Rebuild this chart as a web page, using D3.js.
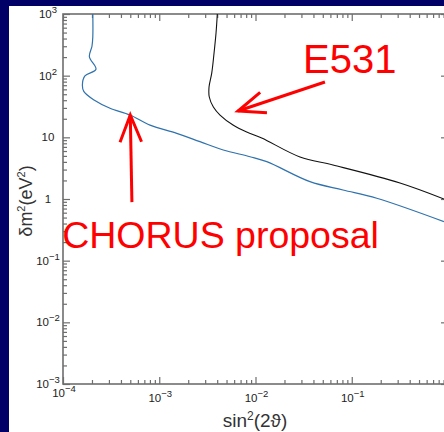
<!DOCTYPE html>
<html>
<head>
<meta charset="utf-8">
<script src="https://cdn.jsdelivr.net/npm/d3@7/dist/d3.min.js"></script>
<style>
  html, body { margin: 0; padding: 0; background: #000066; }
  #chart { position: absolute; left: 0; top: 0; }
  text { font-family: "Liberation Sans", Arial, Helvetica, sans-serif; }
</style>
</head>
<body>
<div id="chart"></div>
<script>
// CHORUS proposal sensitivity curve (sin^2(2theta), delta m^2 in eV^2)
const chorusSin2 = [2.04e-4, 2.04e-4, 2.0e-4, 1.88e-4, 2.2e-4, 1.69e-4, 1.59e-4, 1.65e-4, 2.1e-4, 3.08e-4,
                    4.97e-4, 8.02e-4, 1.52e-3, 2.65e-3, 4.62e-3, 8.77e-3, 1.31e-2, 3.68e-2, 8.11e-2, 0.182, 0.908];
const chorusDm2  = [1000, 424, 300, 203, 127, 99, 70.6, 55, 40.3, 29.6,
                    23, 15.8, 11.6, 8.5, 6.23, 4.85, 4.03, 1.91, 1.4, 1.03, 0.43];

// E531 exclusion curve
const e531Sin2 = [4.01e-3, 3.89e-3, 3.71e-3, 3.51e-3, 3.29e-3, 3.31e-3, 3.65e-3, 4.28e-3,
                  5.84e-3, 8.1e-3, 1.16e-2, 2.9e-2, 6.38e-2, 0.317, 0.908];
const e531Dm2  = [1000, 492, 233, 110, 65.5, 45.1, 31, 23,
                  15.85, 12.2, 9.75, 4.8, 3.56, 1.82, 1.0];

// tick labels: [base, exponent]
const xTicks = [1e-4, 1e-3, 1e-2, 1e-1];
const xTickLabels = [["10", "\u22124"], ["10", "\u22123"], ["10", "\u22122"], ["10", "\u22121"]];
const yTicks = [1e-3, 1e-2, 1e-1, 1, 10, 100, 1000];
const yTickLabels = [["10", "\u22123"], ["10", "\u22122"], ["10", "\u22121"], ["1", ""], ["10", ""], ["10", "2"], ["10", "3"]];

// annotations in data coordinates
const arrows = [
  { from: [5.2e-4, 0.89], to: [5.0e-4, 23] },
  { from: [5.27e-2, 78.9], to: [6.58e-3, 26.7] }
];
const notes = [
  { text: "E531", x: 3.12e-2, y: 110, size: 40 },
  { text: "CHORUS proposal", x: 9.8e-5, y: 0.16, size: 37.5 }
];

const W = 444, H = 432;
const margin = { top: 14, left: 63, bottom: 48 };
const plotRight = 448; // right frame sits just outside the window

const svg = d3.select("#chart").append("svg")
    .attr("width", W)
    .attr("height", H);

svg.append("rect")
    .attr("x", 9).attr("y", 6)
    .attr("width", W - 9).attr("height", H - 6)
    .attr("fill", "white");

const x = d3.scaleLog().domain([1e-4, 1]).range([margin.left, plotRight]);
const y = d3.scaleLog().domain([1e-3, 1e3]).range([H - margin.bottom, margin.top]);

const axisColor = "#6e6e6e";
const x0 = x.range()[0], x1 = x.range()[1];
const y0 = y.range()[0], y1 = y.range()[1];

// minor tick values (2..9 in each decade)
const isDecade = v => Math.abs(Math.log10(v) - Math.round(Math.log10(v))) < 1e-6;
const xMinor = x.ticks().filter(v => !isDecade(v));
const yMinor = y.ticks().filter(v => !isDecade(v));
const xMajor = x.ticks().filter(isDecade);
const yMajor = y.ticks().filter(isDecade);

const drawAxis = (axisFn, scale, vals, len, transform) => {
  const g = svg.append("g")
      .attr("transform", transform)
      .call(axisFn(scale).tickValues(vals).tickSize(-len).tickFormat(""));
  g.select(".domain").remove();
  g.selectAll(".tick line").attr("stroke", axisColor).attr("stroke-width", 1.2);
};

// bottom & top
drawAxis(d3.axisBottom, x, xMinor, 4, `translate(0,${y0})`);
drawAxis(d3.axisBottom, x, xMajor, 7, `translate(0,${y0})`);
drawAxis(d3.axisTop, x, xMinor, 4, `translate(0,${y1})`);
drawAxis(d3.axisTop, x, xMajor, 7, `translate(0,${y1})`);
// left & right
drawAxis(d3.axisLeft, y, yMinor, 4, `translate(${x0},0)`);
drawAxis(d3.axisLeft, y, yMajor, 7, `translate(${x0},0)`);
drawAxis(d3.axisRight, y, yMinor, 4, `translate(${x1},0)`);
drawAxis(d3.axisRight, y, yMajor, 7, `translate(${x1},0)`);

// frame
svg.append("rect")
    .attr("x", x0).attr("y", y1)
    .attr("width", x1 - x0).attr("height", y0 - y1)
    .attr("fill", "none")
    .attr("stroke", axisColor)
    .attr("stroke-width", 1.6);

// tick labels
const xl = svg.append("g").attr("fill", "#222").attr("font-size", 11.5);
xTicks.forEach((v, i) => {
  const t = xl.append("text")
      .attr("x", x(v) + 1)
      .attr("y", i === 0 ? y0 + 13 : y0 + 18)
      .attr("text-anchor", "middle");
  t.append("tspan").text(xTickLabels[i][0]);
  t.append("tspan").attr("dy", -5).attr("font-size", 9.5).text(xTickLabels[i][1]);
});

const yl = svg.append("g").attr("fill", "#222").attr("font-size", 11.5);
yTicks.forEach((v, i) => {
  const t = yl.append("text")
      .attr("x", 48)
      .attr("y", y(v) + 4)
      .attr("text-anchor", "middle");
  t.append("tspan").text(yTickLabels[i][0]);
  if (yTickLabels[i][1]) {
    t.append("tspan").attr("dy", -5).attr("font-size", 9.5).text(yTickLabels[i][1]);
  }
});

// axis titles
const xt = svg.append("text")
    .attr("x", 255).attr("y", 427)
    .attr("text-anchor", "middle")
    .attr("font-size", 19)
    .attr("fill", "#333");
xt.append("tspan").text("sin");
xt.append("tspan").attr("dy", -7).attr("font-size", 12).text("2");
xt.append("tspan").attr("dy", 7).text("(2\u03D1)");

const yt = svg.append("text")
    .attr("transform", "translate(32,201) rotate(-90)")
    .attr("text-anchor", "middle")
    .attr("font-size", 18)
    .attr("fill", "#333");
yt.append("tspan").text("\u03B4m");
yt.append("tspan").attr("dy", -7).attr("font-size", 11).text("2");
yt.append("tspan").attr("dy", 7).text("(eV");
yt.append("tspan").attr("dy", -7).attr("font-size", 11).text("2");
yt.append("tspan").attr("dy", 7).text(")");

// curves
const line = d3.line()
    .x(d => x(d[0]))
    .y(d => y(d[1]))
    .curve(d3.curveCatmullRom.alpha(0.5));

const plot = svg.append("g");

plot.append("path")
    .datum(chorusSin2.map((v, i) => [v, chorusDm2[i]]))
    .attr("d", line)
    .attr("fill", "none")
    .attr("stroke", "#2f72ad")
    .attr("stroke-width", 1.2);

plot.append("path")
    .datum(e531Sin2.map((v, i) => [v, e531Dm2[i]]))
    .attr("d", line)
    .attr("fill", "none")
    .attr("stroke", "#111")
    .attr("stroke-width", 1.1);

// annotation arrows
arrows.forEach(a => {
  const fx = x(a.from[0]), fy = y(a.from[1]);
  const tx = x(a.to[0]), ty = y(a.to[1]);
  const ang = Math.atan2(fy - ty, fx - tx);
  const head = 29, spread = 0.38;
  const g = svg.append("g")
      .attr("stroke", "#ff0000")
      .attr("stroke-width", 3)
      .attr("fill", "none");
  g.append("line").attr("x1", fx).attr("y1", fy).attr("x2", tx).attr("y2", ty);
  g.append("polyline").attr("points", [
    [tx + head * Math.cos(ang + spread), ty + head * Math.sin(ang + spread)],
    [tx, ty],
    [tx + head * Math.cos(ang - spread), ty + head * Math.sin(ang - spread)]
  ].map(p => p.join(",")).join(" "));
});

svg.selectAll(".note")
    .data(notes)
    .enter()
    .append("text")
    .attr("class", "note")
    .attr("x", d => x(d.x))
    .attr("y", d => y(d.y))
    .attr("font-size", d => d.size)
    .attr("fill", "#ff0000")
    .text(d => d.text);
</script>
</body>
</html>
